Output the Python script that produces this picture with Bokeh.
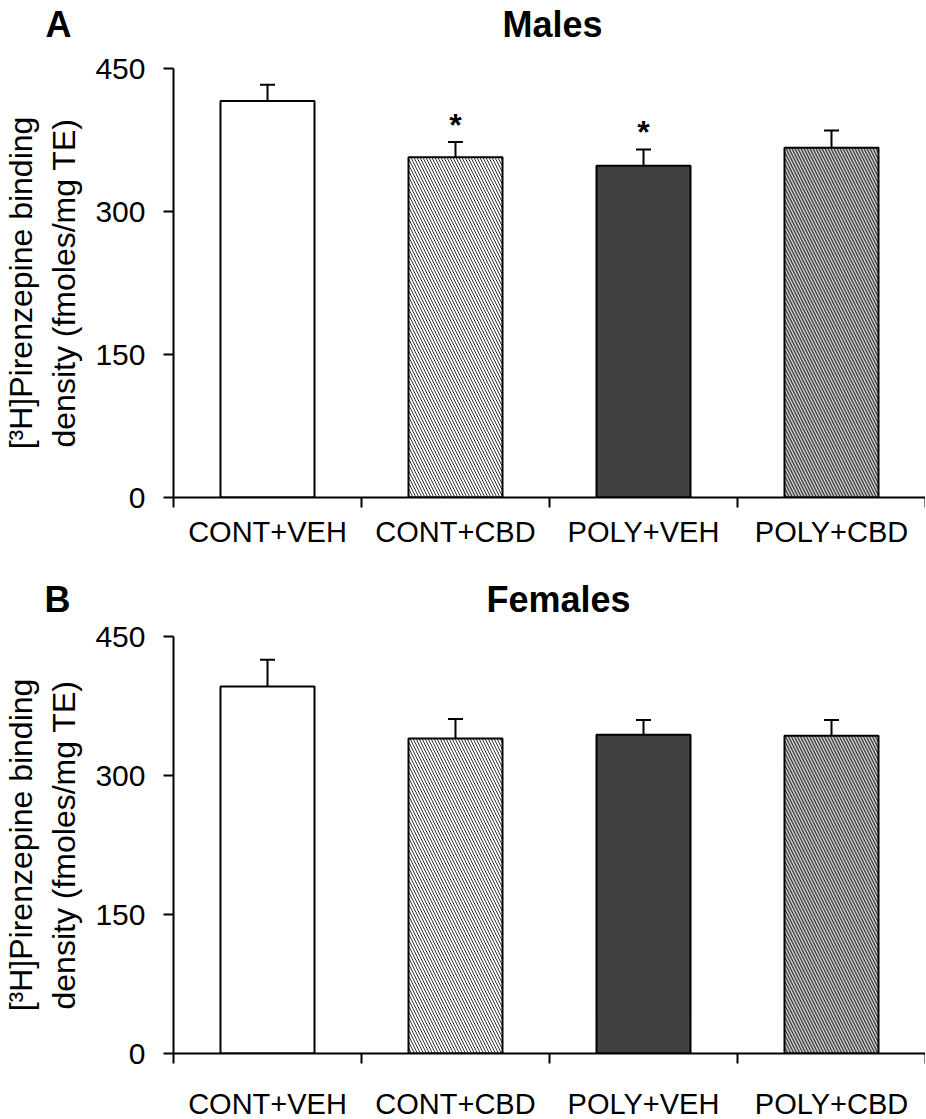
from bokeh.plotting import figure
from bokeh.models import Range1d, FixedTicker, ColumnDataSource, Whisker, TeeHead, LinearAxis
from bokeh.layouts import column
from bokeh.embed import file_html
from bokeh.resources import INLINE
from bokeh.core.properties import value

# ---- data ----
categories = ["CONT+VEH", "CONT+CBD", "POLY+VEH", "POLY+CBD"]
male_means = [416, 357, 348, 367]
male_sem = [17, 16, 17, 18]
male_sig = ["", "*", "*", ""]
female_means = [396, 340, 344, 343]
female_sem = [29, 21, 16, 17]
female_sig = ["", "", "", ""]
y_ticks = [0, 150, 300, 450]
y_max = 450
y_title = "[\u00b3H]Pirenzepine binding\ndensity (fmoles/mg TE)"

# ---- styles ----
bar_fill = ["white", "white", "#404040", "#404040"]
bar_hatch = [" ", "\\", " ", "\\"]
bar_hatch_color = ["black", "#333333", "black", "#d0d0d0"]
bar_hatch_weight = [1, 1, 1, 1.4]
FONT = "Liberation Sans"
FRAME_W = 752


def header(title, letter, b_left, b_top, frame_h, title_x, letter_standoff):
    n = len(categories)
    h = figure(frame_width=FRAME_W, frame_height=frame_h,
               x_range=Range1d(0, n), y_range=Range1d(0, frame_h),
               x_axis_type=None, y_axis_type=None,
               output_backend="svg", toolbar_location=None,
               min_border_left=b_left, min_border_right=0, min_border_top=b_top,
               min_border_bottom=0, outline_line_color=None)
    h.grid.visible = False
    ax = LinearAxis(ticker=FixedTicker(ticks=[], minor_ticks=[]),
                    axis_line_color=None, major_tick_line_color=None,
                    minor_tick_line_color=None, major_tick_out=0, major_tick_in=0,
                    minor_tick_out=0, axis_label=letter,
                    axis_label_orientation="horizontal",
                    axis_label_text_font=FONT, axis_label_text_font_size="36px",
                    axis_label_text_font_style="bold", axis_label_text_color="black",
                    axis_label_standoff=letter_standoff)
    h.add_layout(ax, "left")
    h.text(x=[title_x], y=[frame_h / 2], text=[title],
           text_align="center", text_baseline="middle",
           text_font=value(FONT), text_font_size="36px",
           text_font_style="bold", text_color="black")
    return h


def panel(means, sems, sig, frame_h, b_top, b_bottom, b_left, cat_standoff):
    n = len(categories)
    xs = [i + 0.5 for i in range(n)]
    src = ColumnDataSource(dict(
        x=xs, top=means, upper=[m + s for m, s in zip(means, sems)],
        fill=bar_fill, hatch=bar_hatch, hcol=bar_hatch_color, hw=bar_hatch_weight,
        sig=sig, sig_y=[m + s + 18 for m, s in zip(means, sems)]))
    p = figure(frame_width=FRAME_W, frame_height=frame_h,
               x_range=Range1d(0, n), y_range=Range1d(0, y_max),
               output_backend="svg", toolbar_location=None,
               min_border_left=b_left, min_border_right=0,
               min_border_top=b_top, min_border_bottom=b_bottom,
               outline_line_color=None, background_fill_color="white")
    p.grid.visible = False
    p.vbar(x="x", top="top", width=0.5, bottom=0, source=src,
           fill_color="fill", line_color="black", line_width=2,
           hatch_pattern="hatch", hatch_color="hcol", hatch_scale=6,
           hatch_weight="hw")
    w = Whisker(base="x", upper="upper", lower="top", source=src,
                line_width=2, line_color="black",
                upper_head=TeeHead(size=15, line_width=2, line_color="black"),
                lower_head=None)
    p.add_layout(w)
    p.text(x="x", y="sig_y", text="sig", source=src, text_align="center",
           text_baseline="alphabetic", text_font=value(FONT),
           text_font_size="32px", text_font_style="bold", text_color="black")

    xa = p.xaxis[0]
    xa.ticker = FixedTicker(ticks=xs, minor_ticks=list(range(n + 1)))
    xa.major_label_overrides = {x: c for x, c in zip(xs, categories)}
    xa.major_tick_out = 0
    xa.major_tick_in = 0
    xa.minor_tick_out = 10
    xa.minor_tick_in = 0
    xa.minor_tick_line_width = 2
    xa.minor_tick_line_color = "black"
    xa.axis_line_width = 2
    xa.axis_line_color = "black"
    xa.major_label_text_font = FONT
    xa.major_label_text_font_size = "29px"
    xa.major_label_text_color = "black"
    xa.major_label_standoff = cat_standoff

    ya = p.yaxis[0]
    ya.ticker = FixedTicker(ticks=y_ticks, minor_ticks=[])
    ya.major_tick_out = 10
    ya.major_tick_in = 0
    ya.major_tick_line_width = 2
    ya.major_tick_line_color = "black"
    ya.axis_line_width = 2
    ya.axis_line_color = "black"
    ya.major_label_text_font = FONT
    ya.major_label_text_font_size = "30px"
    ya.major_label_text_color = "black"
    ya.major_label_standoff = 18
    ya.axis_label = y_title
    ya.axis_label_text_font = FONT
    ya.axis_label_text_font_size = "32px"
    ya.axis_label_text_font_style = "normal"
    ya.axis_label_text_color = "black"
    ya.axis_label_standoff = 10
    return p


h1 = header("Males", "A", 164, 0, 48, 2.016, 102)
p1 = panel(male_means, male_sem, male_sig, 429, 20, 67, 164, 8)
h2 = header("Females", "B", 162, 14, 41, 2.048, 103)
p2 = panel(female_means, female_sem, female_sig, 417, 17, 58, 162, 24)

layout = column(h1, p1, h2, p2, spacing=0)
open("out.html", "w").write(file_html(layout, INLINE))
